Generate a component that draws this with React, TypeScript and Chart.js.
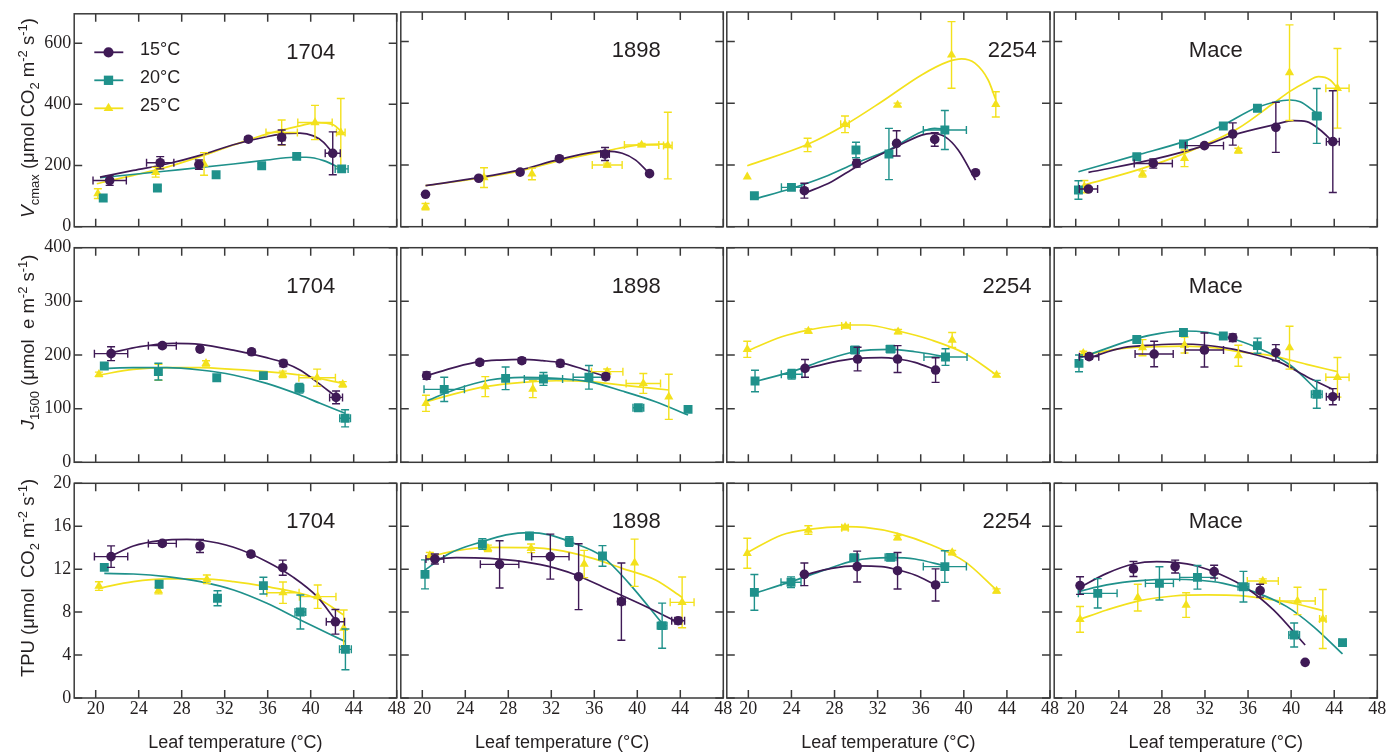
import React, { useEffect, useRef } from 'react';
import { Chart, registerables } from 'chart.js';

Chart.register(...registerables);

// ---------------- data ----------------
const X_TICKS = [20, 24, 28, 32, 36, 40, 44, 48];
const VC_TICKS = [0, 200, 400, 600];
const J_TICKS = [0, 100, 200, 300, 400];
const TPU_TICKS = [0, 4, 8, 12, 16, 20];
const CULTIVARS = ['1704', '1898', '2254', 'Mace'];
const GROWTH_TEMPS = ['15°C', '20°C', '25°C'];
const X_TITLE = 'Leaf temperature (°C)';

// points: [leafTemp, value, tempErr, valueErr]; curves: [leafTemp, fittedValue]
// ---- Vcmax ----
const vc1704p15 = [[21.3, 151, 1.55, 16], [26.0, 209, 1.27, 20], [29.6, 203, 0, 15], [34.2, 286, 0, 8], [37.3, 292, 0.3, 24], [42.05, 240, 0.7, 70]];
const vc1704c15 = [[20.4, 162], [23.5, 184], [26.6, 205], [29.7, 233], [32.8, 268], [35.9, 294], [37.8, 305], [39.0, 306], [40.25, 297], [41.2, 276], [42.1, 238]];
const vc1704p20 = [[20.7, 94, 0, 0], [25.74, 126.5, 0, 8], [31.2, 170, 0, 0], [35.44, 199, 0, 8], [38.7, 230, 0.3, 6], [42.88, 189, 0.6, 8]];
const vc1704c20 = [[20.4, 160], [26.6, 182], [32.8, 205], [35.9, 218], [38.4, 227], [39.6, 227], [41.2, 216], [42.9, 189]];
const vc1704p25 = [[20.2, 108, 0, 16], [25.58, 178, 0, 16], [30.08, 205, 0, 37], [37.3, 308, 1.46, 41], [40.4, 340.5, 1.6, 56], [42.8, 308, 0.4, 111]];
const vc1704c25 = [[20.1, 140.5], [23.5, 167.6], [26.6, 194.6], [29.7, 229], [32.8, 267], [35.9, 302.7], [39.0, 329.7], [40.56, 340.5], [42.1, 333], [42.88, 311]];

const vc1898p15 = [[20.3, 105, 0, 0], [25.25, 157, 0, 6], [29.1, 177, 0, 6], [32.75, 220.5, 0, 8], [37.0, 235.7, 0.4, 21], [41.14, 172, 0, 0]];
const vc1898c15 = [[20.3, 133], [25.25, 159], [29.1, 184], [32.75, 218], [37.0, 245], [38.6, 238], [39.85, 216], [41.1, 173]];
const vc1898p20: number[][] = [];
const vc1898c20: number[][] = [];
const vc1898p25 = [[20.3, 65, 0, 10], [25.74, 159, 0, 32], [30.2, 171, 0, 19], [37.2, 200, 1.39, 6], [40.4, 265, 1.6, 5], [42.84, 263, 0.4, 108]];
const vc1898c25 = [[20.3, 133], [25.25, 157], [29.1, 180.5], [32.75, 214], [37.0, 245], [40.4, 266], [42.84, 268]];

const vc2254p15 = [[25.2, 116.7, 0, 24], [30.05, 205.4, 0, 12], [33.76, 270, 0, 41], [37.3, 283, 0, 22], [41.09, 175, 0, 0]];
const vc2254c15 = [[25.2, 108], [27.73, 146], [30.05, 194.6], [33.76, 259.4], [36.08, 297], [37.0, 302.7], [38.24, 292], [39.48, 248.6], [41.09, 151]];
const vc2254p20 = [[20.56, 100.5, 0, 6], [24.0, 127.6, 0.93, 6], [29.99, 248.6, 0, 25], [33.05, 235.7, 0, 83], [38.24, 313.5, 2.0, 63]];
const vc2254c20 = [[20.56, 89.7], [24.0, 124], [27.1, 162], [29.9, 205], [33.0, 248.6], [36.1, 308], [37.3, 319], [38.2, 315.6]];
const vc2254p25 = [[19.9, 162, 0, 0], [25.5, 265, 0, 21.6], [28.97, 332, 0.4, 27], [33.85, 394.6, 0, 6], [38.86, 556.7, 0, 108], [42.97, 396.7, 0, 41]];
const vc2254c25 = [[19.9, 197.8], [25.57, 268], [28.97, 329.7], [32.37, 405], [36.08, 492], [38.55, 535], [39.79, 544], [41.03, 530], [42.26, 475.6], [42.97, 411]];

const vcMacep15 = [[21.18, 122, 0.85, 6], [27.2, 205, 1.77, 15], [31.95, 262.7, 1.77, 0], [34.58, 300.5, 0, 36], [38.58, 322, 0, 81], [43.87, 275.7, 0.6, 165]];
const vcMacec15 = [[21.18, 176], [27.2, 218], [31.95, 262.7], [34.58, 297], [38.58, 331.9], [40.2, 343.8], [41.45, 340.5], [42.7, 313.5], [43.87, 275.7]];
const vcMacep20 = [[20.25, 119, 0, 30], [25.67, 227, 0, 8], [30.0, 268, 0, 8], [33.7, 326.5, 0, 0], [36.87, 383.8, 0, 0], [42.38, 359, 0.4, 89]];
const vcMacec20 = [[20.25, 178], [25.67, 232], [30.0, 275.7], [33.7, 329.7], [36.87, 387], [39.9, 410.8], [40.84, 405], [42.38, 367.5]];
const vcMacep25 = [[20.8, 130, 0, 20], [26.2, 171, 0, 10], [30.1, 221.6, 0, 27], [35.1, 246.5, 0, 8], [39.85, 499.4, 0, 155], [44.3, 448.6, 1.08, 129]];
const vcMacec25 = [[20.8, 135], [26.2, 189], [30.1, 237.8], [35.1, 319], [38.36, 400], [39.85, 437.8], [41.45, 470], [42.54, 486.5], [43.62, 475.7], [44.3, 448.6]];

// ---- J1500 ----
const j1704p15 = [[21.43, 202.5, 1.55, 13], [26.2, 217.4, 1.3, 4], [29.7, 211, 0, 4], [34.5, 206, 0, 5], [37.46, 184.4, 0, 6], [42.36, 121, 0.6, 12]];
const j1704c15 = [[21.43, 204], [24.12, 215.5], [27.22, 221.7], [29.7, 219.8], [32.8, 209], [35.9, 195], [37.46, 186], [39.0, 172], [40.56, 150], [42.36, 122]];
const j1704p20 = [[20.8, 179.5, 0, 4], [25.83, 169, 0, 15.5], [31.26, 157.7, 0, 0], [35.6, 161.5, 0, 0], [38.95, 137.9, 0.4, 9], [43.2, 82, 0.5, 16]];
const j1704c20 = [[20.8, 175], [23.5, 176.4], [26.6, 176.4], [29.7, 172], [32.8, 162.7], [35.9, 147], [39.0, 125.4], [40.87, 110], [43.2, 91.3]];
const j1704p25 = [[20.3, 164, 0, 4], [25.84, 167.7, 0, 15], [30.26, 184.4, 0, 5], [37.4, 164, 0, 6], [40.6, 157.7, 1.7, 16], [42.98, 145.3, 0, 5]];
const j1704c25 = [[20.3, 162.7], [23.5, 173.3], [26.6, 176.4], [29.7, 176.4], [32.8, 173.3], [35.9, 169], [39.0, 162.7], [43.0, 147.2]];

const j1898p15 = [[20.4, 161.5, 0, 7], [25.34, 186.3, 0, 5], [29.26, 189.4, 0, 5], [32.84, 184.4, 0, 6], [37.07, 159.6, 0, 6]];
const j1898c15 = [[20.4, 161.5], [23.18, 178], [25.34, 187.5], [27.2, 190.6], [29.26, 192], [31.2, 189.4], [32.84, 185.7], [34.9, 174], [37.07, 159.6]];
const j1898p20 = [[22.04, 136, 1.88, 22.6], [27.75, 156.5, 0, 21], [31.27, 155.3, 1.78, 12], [35.5, 158.4, 1.47, 22], [40.1, 101.8, 0.5, 4], [44.72, 98.7, 0, 0]];
const j1898c20 = [[20.25, 113], [23.18, 136.6], [26.27, 153.4], [29.35, 158.4], [32.44, 156.5], [35.52, 150.3], [38.6, 132.9], [41.7, 113], [44.72, 88.2]];
const j1898p25 = [[20.34, 110, 0, 15], [25.86, 141, 0, 18.6], [30.28, 136.6, 0, 16], [37.2, 169, 1.46, 5], [40.56, 147, 1.6, 18.6], [42.93, 122, 0, 42]];
const j1898c25 = [[20.34, 113], [23.18, 128.5], [25.86, 141], [29.35, 149], [32.44, 152], [35.52, 150.3], [38.6, 144], [42.93, 134.8]];

const j2254p15 = [[25.26, 175, 0, 16.6], [30.14, 192.5, 0, 22], [33.85, 192.5, 0, 25], [37.38, 172, 0, 23]];
const j2254c15 = [[25.26, 173.9], [27.73, 186.3], [30.14, 193.7], [32.37, 195], [33.85, 192.5], [35.46, 186.3], [37.38, 172]];
const j2254p20 = [[20.62, 151.5, 0, 20], [24.02, 164, 0.96, 9], [29.9, 209.3, 0.4, 4], [33.2, 211, 0.4, 4], [38.3, 196.2, 2.0, 15.5]];
const j2254c20 = [[20.62, 150.3], [24.02, 169], [27.1, 190.6], [29.9, 206], [33.2, 210.5], [35.46, 206], [38.3, 196.9]];
const j2254p25 = [[19.9, 210.5, 0, 15], [25.57, 244.7, 0, 4], [29.06, 254, 0.4, 3], [33.9, 243.4, 0, 4], [38.92, 228, 0, 14], [43.04, 162.7, 0, 3]];
const j2254c25 = [[19.9, 207.4], [23.1, 234], [25.57, 246.5], [29.06, 255.9], [30.82, 255.9], [33.9, 244.7], [37.0, 227.9], [40.1, 203], [43.04, 162.7]];

const jMacep15 = [[21.24, 196.9, 0.9, 5], [27.28, 201.8, 1.77, 23.7], [31.95, 209.3, 1.77, 31.7], [34.58, 232.3, 0, 7], [38.58, 204.3, 0, 15], [43.87, 122.3, 0.6, 15]];
const jMacec15 = [[21.24, 195], [24.43, 213.6], [27.28, 218.6], [29.7, 220.5], [31.95, 218.6], [34.58, 211], [36.8, 200], [38.98, 186.3], [41.45, 159.6], [43.87, 136]];
const jMacep20 = [[20.3, 184.4, 0, 15.5], [25.67, 229, 0, 4], [30.0, 242, 0, 4], [33.7, 235.4, 0, 4], [36.87, 217.4, 0, 14], [42.38, 126.7, 0.5, 26]];
const jMacec20 = [[20.3, 193.8], [22.88, 212.4], [25.67, 231], [27.83, 240.3], [30.0, 244.7], [32.17, 242.2], [33.7, 235.4], [36.87, 213.6], [39.9, 181.3], [42.38, 134.8]];
const jMacep25 = [[20.7, 203, 0, 4], [26.2, 213.6, 0, 15], [30.1, 218.6, 0, 15], [35.1, 198.7, 0, 19.6], [39.85, 213.6, 0, 40], [44.3, 158.4, 1.08, 37]];
const jMacec25 = [[20.7, 200], [24.43, 212.4], [27.52, 215.5], [30.1, 216.7], [32.79, 213.6], [35.1, 206], [38.36, 198], [41.45, 182.6], [44.3, 169]];

// ---- TPU ----
const t1704p15 = [[21.43, 13.17, 1.55, 1.0], [26.2, 14.4, 1.3, 0.2], [29.7, 14.16, 0, 0.6], [34.44, 13.4, 0, 0.25], [37.4, 12.14, 0, 0.7], [42.3, 7.1, 0.85, 1.15]];
const t1704c15 = [[21.43, 13.23], [23.5, 14.16], [26.0, 14.66], [28.48, 14.78], [29.72, 14.72], [32.83, 14.04], [35.93, 12.7], [38.4, 11.24], [40.6, 9.44], [42.3, 7.27]];
const t1704p20 = [[20.8, 12.17, 0, 0], [25.9, 10.59, 0, 0.3], [31.33, 9.29, 0, 0.7], [35.6, 10.47, 0, 0.78], [39.04, 8.01, 0.5, 1.58], [43.23, 4.53, 0.55, 1.9]];
const t1704c20 = [[20.8, 11.6], [23.5, 11.55], [26.6, 11.3], [29.72, 10.84], [32.83, 10.06], [35.93, 8.82], [39.04, 7.27], [43.23, 5.25]];
const t1704p25 = [[20.3, 10.43, 0, 0.4], [25.84, 10.0, 0, 0.3], [30.34, 11.06, 0, 0.4], [37.42, 9.81, 1.5, 1.0], [40.65, 9.44, 1.7, 1.09], [43.07, 6.5, 0, 1.7]];
const t1704c25 = [[20.3, 10.22], [23.5, 10.84], [26.6, 11.09], [29.72, 11.09], [32.83, 10.84], [35.93, 10.37], [39.04, 9.75], [40.9, 9.13], [43.07, 7.73]];

const t1898p15 = [[21.17, 12.95, 0.83, 0.47], [27.19, 12.45, 1.79, 2.2], [31.91, 13.17, 1.74, 2.1], [34.54, 11.3, 0, 3.07], [38.52, 8.98, 0.35, 3.6], [43.8, 7.2, 0.6, 0.3]];
const t1898c15 = [[21.17, 12.95], [23.18, 13.07], [26.27, 13.0], [29.35, 12.7], [32.44, 12.08], [34.54, 11.37], [37.07, 10.22], [40.15, 8.82], [43.8, 7.05]];
const t1898p20 = [[20.25, 11.52, 0, 1.35], [25.59, 14.35, 0, 0.5], [29.97, 15.09, 0, 0.3], [33.67, 14.57, 0, 0.45], [36.76, 13.23, 0, 0.96], [42.31, 6.74, 0.45, 2.1]];
const t1898c20 = [[20.25, 11.93], [22.56, 13.48], [25.59, 14.57], [27.8, 15.19], [29.97, 15.4], [31.82, 15.19], [33.67, 14.57], [36.76, 13.17], [39.23, 10.68], [42.31, 6.96]];
const t1898p25 = [[20.7, 13.26, 0, 0.3], [26.1, 13.94, 0, 0.3], [30.12, 13.94, 0, 0.4], [35.06, 12.48, 0, 1.27], [39.75, 12.6, 0, 2.2], [44.17, 8.91, 1.11, 2.36]];
const t1898c25 = [[20.7, 13.17], [23.18, 13.73], [26.27, 14.04], [30.12, 14.0], [32.44, 13.79], [35.52, 13.1], [38.6, 12.08], [41.7, 11.0], [44.17, 9.38]];

const t2254p15 = [[25.2, 11.52, 0, 1.05], [30.1, 12.24, 0, 1.44], [33.85, 11.86, 0, 1.7], [37.38, 10.53, 0, 1.5]];
const t2254c15 = [[25.2, 11.46], [27.73, 12.08], [30.1, 12.3], [32.37, 12.24], [33.85, 11.93], [35.46, 11.46], [37.38, 10.53]];
const t2254p20 = [[20.56, 9.84, 0, 1.66], [23.96, 10.78, 0.93, 0.5], [29.83, 13.07, 0.4, 0.3], [33.2, 13.1, 0.5, 0.3], [38.24, 12.24, 2.0, 1.47]];
const t2254c20 = [[20.56, 9.75], [23.96, 10.84], [27.1, 11.93], [29.83, 12.8], [33.2, 13.07], [35.46, 12.95], [38.24, 12.3]];
const t2254p25 = [[19.9, 13.48, 0, 1.4], [25.57, 15.65, 0, 0.4], [28.97, 15.87, 0.3, 0.2], [33.85, 14.94, 0, 0.2], [38.92, 13.54, 0, 0.2], [43.04, 9.97, 0, 0.2]];
const t2254c25 = [[19.9, 13.54], [23.1, 15.19], [25.57, 15.71], [28.97, 15.96], [30.82, 15.9], [33.85, 15.34], [37.0, 14.25], [40.1, 12.7], [43.04, 10.06]];

const tMacep15 = [[20.4, 10.47, 0, 0.82], [25.36, 12.02, 0, 0.7], [29.23, 12.24, 0, 0.6], [32.85, 11.77, 0, 0.6], [37.12, 10.0, 0, 0.6], [41.3, 3.32, 0, 0]];
const tMacec15 = [[20.4, 10.31], [22.88, 11.61], [25.36, 12.48], [27.52, 12.7], [29.23, 12.64], [31.24, 12.3], [33.4, 11.52], [35.88, 10.22], [38.36, 8.2], [41.3, 4.94]];
const tMacep20 = [[22.04, 9.75, 1.8, 1.37], [27.77, 10.68, 1.3, 1.55], [31.3, 11.24, 1.65, 1.1], [35.57, 10.37, 0.5, 1.43], [40.28, 5.87, 0.5, 1.12], [44.77, 5.16, 0.3, 0]];
const tMacec20 = [[20.25, 9.91], [22.88, 10.53], [25.98, 10.93], [29.07, 11.06], [31.24, 10.99], [33.7, 10.68], [36.5, 9.91], [39.6, 8.51], [42.07, 6.65], [44.77, 4.1]];
const tMacep25 = [[20.4, 7.33, 0, 1.2], [25.76, 9.35, 0, 1.24], [30.25, 8.66, 0, 1.15], [37.37, 10.9, 1.44, 0.2], [40.59, 9.04, 1.65, 1.27], [42.94, 7.36, 0.3, 2.75]];
const tMacec25 = [[20.4, 7.33], [22.88, 8.2], [25.98, 9.07], [29.07, 9.5], [32.17, 9.6], [35.26, 9.53], [38.36, 9.13], [40.53, 8.76], [42.94, 8.14]];

// panel table: [row][col] -> [p15, c15, p20, c20, p25, c25]
const PANELS = [
  [
    [vc1704p15, vc1704c15, vc1704p20, vc1704c20, vc1704p25, vc1704c25],
    [vc1898p15, vc1898c15, vc1898p20, vc1898c20, vc1898p25, vc1898c25],
    [vc2254p15, vc2254c15, vc2254p20, vc2254c20, vc2254p25, vc2254c25],
    [vcMacep15, vcMacec15, vcMacep20, vcMacec20, vcMacep25, vcMacec25],
  ],
  [
    [j1704p15, j1704c15, j1704p20, j1704c20, j1704p25, j1704c25],
    [j1898p15, j1898c15, j1898p20, j1898c20, j1898p25, j1898c25],
    [j2254p15, j2254c15, j2254p20, j2254c20, j2254p25, j2254c25],
    [jMacep15, jMacec15, jMacep20, jMacec20, jMacep25, jMacec25],
  ],
  [
    [t1704p15, t1704c15, t1704p20, t1704c20, t1704p25, t1704c25],
    [t1898p15, t1898c15, t1898p20, t1898c20, t1898p25, t1898c25],
    [t2254p15, t2254c15, t2254p20, t2254c20, t2254p25, t2254c25],
    [tMacep15, tMacec15, tMacep20, tMacec20, tMacep25, tMacec25],
  ],
];

// ---------------- layout / style ----------------
const W = 1398;
const H = 754;
const COL_L = [74.2, 400.8, 726.8, 1054.2];
const COL_R = [396.7, 723.3, 1050, 1377.3];
const ROW_T = [12, 247.7, 483.3];
const ROW_B = [226.7, 462.3, 698];
const X_MIN = 18;
const X_MAX = 48;
const Y_MAX = [696, 400, 20];
const Y_TICKS = [VC_TICKS, J_TICKS, TPU_TICKS];
const LABEL_X = [
  [40, 39.9, 44.5, 33],
  [40, 39.9, 44, 33],
  [40, 39.9, 44, 33],
];
const LABEL_DY = 39;

const COLORS = ['#3f1a56', '#1f918b', '#f3e11c'];
const STYLES = ['circle', 'rect', 'triangle'];
const RADII = [4.8, 6.3, 5.3];
const TEXT = '#231f20';
const FRAME = '#3a3a3a';
const SANS = '"Liberation Sans", Arial, Helvetica, sans-serif';
const SERIF = '"Liberation Serif", "Times New Roman", serif';

const Y_TITLES: [string, string][][] = [
  [['V', 'i'], ['cmax', 'sub'], [' (μmol CO', ''], ['2', 'sub'], [' m', ''], ['-2', 'sup'], [' s', ''], ['-1', 'sup'], [')', '']],
  [['J', 'i'], ['1500', 'sub'], [' (μmol  e m', ''], ['-2', 'sup'], [' s', ''], ['-1', 'sup'], [')', '']],
  [['TPU (μmol  CO', ''], ['2', 'sub'], [' m', ''], ['-2', 'sup'], [' s', ''], ['-1', 'sup'], [')', '']],
];
const Y_TITLE_X = 34;
const Y_TITLE_CY = [118, 342, 578];

function drawMarker(ctx: CanvasRenderingContext2D, style: string, x: number, y: number, r: number, color: string) {
  ctx.fillStyle = color;
  ctx.beginPath();
  if (style === 'circle') {
    ctx.arc(x, y, r, 0, Math.PI * 2);
  } else if (style === 'rect') {
    const s = r * Math.SQRT1_2;
    ctx.rect(x - s, y - s, 2 * s, 2 * s);
  } else {
    ctx.moveTo(x, y - r);
    ctx.lineTo(x + r * 0.866, y + r * 0.5);
    ctx.lineTo(x - r * 0.866, y + r * 0.5);
    ctx.closePath();
  }
  ctx.fill();
}

const errorBarPlugin = {
  id: 'errorBars',
  beforeDatasetDraw(chart: any, args: any) {
    const ds = chart.data.datasets[args.index];
    const errs = ds.errs as number[][] | undefined;
    if (!errs) return;
    const { ctx } = chart;
    const xs = chart.scales.x;
    const ys = chart.scales.y;
    const cap = 4;
    ctx.save();
    ctx.strokeStyle = ds.borderColor;
    ctx.lineWidth = 1.4;
    ctx.beginPath();
    errs.forEach((p) => {
      const [vx, vy, ex, ey] = p;
      const px = xs.getPixelForValue(vx);
      const py = ys.getPixelForValue(vy);
      if (ey > 0) {
        const t = ys.getPixelForValue(vy + ey);
        const b = ys.getPixelForValue(vy - ey);
        ctx.moveTo(px, t); ctx.lineTo(px, b);
        ctx.moveTo(px - cap, t); ctx.lineTo(px + cap, t);
        ctx.moveTo(px - cap, b); ctx.lineTo(px + cap, b);
      }
      if (ex > 0) {
        const l = xs.getPixelForValue(vx - ex);
        const r = xs.getPixelForValue(vx + ex);
        ctx.moveTo(l, py); ctx.lineTo(r, py);
        ctx.moveTo(l, py - cap); ctx.lineTo(l, py + cap);
        ctx.moveTo(r, py - cap); ctx.lineTo(r, py + cap);
      }
    });
    ctx.stroke();
    ctx.restore();
  },
};

const framePlugin = {
  id: 'frameDecor',
  afterDraw(chart: any) {
    const { ctx, chartArea } = chart;
    const { left, right, top, bottom } = chartArea;
    const o = chart.options.plugins.frameDecor;
    const xs = chart.scales.x;
    const ys = chart.scales.y;
    ctx.save();
    ctx.strokeStyle = FRAME;
    ctx.lineWidth = 1.5;
    ctx.strokeRect(left, top, right - left, bottom - top);
    ctx.beginPath();
    const tl = 8;
    X_TICKS.forEach((v) => {
      const px = xs.getPixelForValue(v);
      ctx.moveTo(px, bottom); ctx.lineTo(px, bottom - tl);
      ctx.moveTo(px, top); ctx.lineTo(px, top + tl);
    });
    Y_TICKS[o.row].forEach((v: number) => {
      const py = ys.getPixelForValue(v);
      ctx.moveTo(left, py); ctx.lineTo(left + tl, py);
      ctx.moveTo(right, py); ctx.lineTo(right - tl, py);
    });
    ctx.stroke();

    // cultivar label
    ctx.fillStyle = TEXT;
    ctx.font = `22px ${SANS}`;
    ctx.textAlign = 'center';
    ctx.textBaseline = 'middle';
    ctx.fillText(CULTIVARS[o.col], xs.getPixelForValue(LABEL_X[o.row][o.col]), top + LABEL_DY);

    // legend (first panel only)
    if (o.row === 0 && o.col === 0) {
      GROWTH_TEMPS.forEach((lab, i) => {
        const y = top + 38.5 + i * 28;
        ctx.strokeStyle = COLORS[i];
        ctx.lineWidth = 1.8;
        ctx.beginPath();
        ctx.moveTo(94.3, y); ctx.lineTo(123.3, y);
        ctx.stroke();
        drawMarker(ctx, STYLES[i], 108.5, y, RADII[i] + 0.3, COLORS[i]);
        ctx.fillStyle = TEXT;
        ctx.font = `18px ${SANS}`;
        ctx.textAlign = 'left';
        ctx.textBaseline = 'middle';
        ctx.fillText(lab, 140, y - 2);
      });
    }

    // y-axis title (first column only)
    if (o.col === 0) {
      const segs = Y_TITLES[o.row];
      const fontFor = (k: string) =>
        k === 'i' ? `italic 19px ${SANS}` : k === 'sub' || k === 'sup' ? `13px ${SANS}` : `18.5px ${SANS}`;
      let total = 0;
      segs.forEach(([t, k]) => { ctx.font = fontFor(k); total += ctx.measureText(t).width; });
      ctx.translate(Y_TITLE_X, Y_TITLE_CY[o.row]);
      ctx.rotate(-Math.PI / 2);
      ctx.textAlign = 'left';
      ctx.textBaseline = 'alphabetic';
      ctx.fillStyle = TEXT;
      let xx = -total / 2;
      segs.forEach(([t, k]) => {
        ctx.font = fontFor(k);
        const dy = k === 'sub' ? 4.5 : k === 'sup' ? -7.5 : 0;
        ctx.fillText(t, xx, dy);
        xx += ctx.measureText(t).width;
      });
    }
    ctx.restore();
  },
};

function buildConfig(row: number, col: number): any {
  const pd = PANELS[row][col];
  const datasets: any[] = [];
  for (let s = 0; s < 3; s++) {
    const curve = pd[s * 2 + 1];
    datasets.push({
      data: curve.map((p) => ({ x: p[0], y: p[1] })),
      showLine: true,
      borderColor: COLORS[s],
      borderWidth: 1.7,
      pointRadius: 0,
      cubicInterpolationMode: 'monotone',
      fill: false,
      order: 2,
    });
  }
  for (let s = 0; s < 3; s++) {
    const pts = pd[s * 2];
    datasets.push({
      data: pts.map((p) => ({ x: p[0], y: p[1] })),
      showLine: false,
      pointStyle: STYLES[s],
      pointRadius: RADII[s],
      backgroundColor: COLORS[s],
      borderColor: COLORS[s],
      borderWidth: 0,
      errs: pts,
      order: 1,
    });
  }
  const L = COL_L[col];
  const R = COL_R[col];
  const T = ROW_T[row];
  const B = ROW_B[row];
  return {
    type: 'scatter',
    data: { datasets },
    options: {
      animation: false,
      responsive: false,
      events: [],
      layout: { padding: { top: T, right: W - R, left: 0, bottom: 0 } },
      plugins: {
        legend: { display: false },
        tooltip: { enabled: false },
        frameDecor: { row, col },
      },
      scales: {
        x: {
          type: 'linear',
          min: X_MIN,
          max: X_MAX,
          afterBuildTicks: (s: any) => { s.ticks = X_TICKS.map((v) => ({ value: v })); },
          afterFit: (s: any) => { s.height = H - B; },
          grid: { display: false, drawTicks: false, tickLength: 0 },
          border: { display: false },
          ticks: {
            display: row === 2,
            autoSkip: false,
            maxRotation: 0,
            padding: 0,
            color: TEXT,
            font: { family: SERIF, size: 18 },
          },
          title: {
            display: row === 2,
            text: X_TITLE,
            color: TEXT,
            font: { family: SANS, size: 18 },
            padding: { top: 0, bottom: 0 },
          },
        },
        y: {
          type: 'linear',
          min: 0,
          max: Y_MAX[row],
          afterBuildTicks: (s: any) => { s.ticks = Y_TICKS[row].map((v) => ({ value: v })); },
          afterFit: (s: any) => { s.width = L; },
          grid: { display: false, drawTicks: false, tickLength: 0 },
          border: { display: false },
          ticks: {
            display: col === 0,
            padding: 3,
            color: TEXT,
            font: { family: SERIF, size: 18 },
          },
        },
      },
    },
    plugins: [errorBarPlugin, framePlugin],
  };
}

function Panel({ row, col }: { row: number; col: number }) {
  const ref = useRef<HTMLCanvasElement>(null);
  useEffect(() => {
    const canvas = ref.current;
    if (!canvas) return;
    const chart = new Chart(canvas, buildConfig(row, col));
    return () => chart.destroy();
  }, [row, col]);
  return (
    <canvas
      ref={ref}
      width={W}
      height={H}
      style={{ position: 'absolute', left: 0, top: 0, width: W, height: H }}
    />
  );
}

export default function App() {
  const panels: React.ReactNode[] = [];
  for (let r = 0; r < 3; r++) {
    for (let c = 0; c < 4; c++) {
      panels.push(<Panel key={`${r}-${c}`} row={r} col={c} />);
    }
  }
  return (
    <div style={{ position: 'fixed', left: 0, top: 0, width: W, height: H, background: '#ffffff', overflow: 'hidden' }}>
      {panels}
    </div>
  );
}
